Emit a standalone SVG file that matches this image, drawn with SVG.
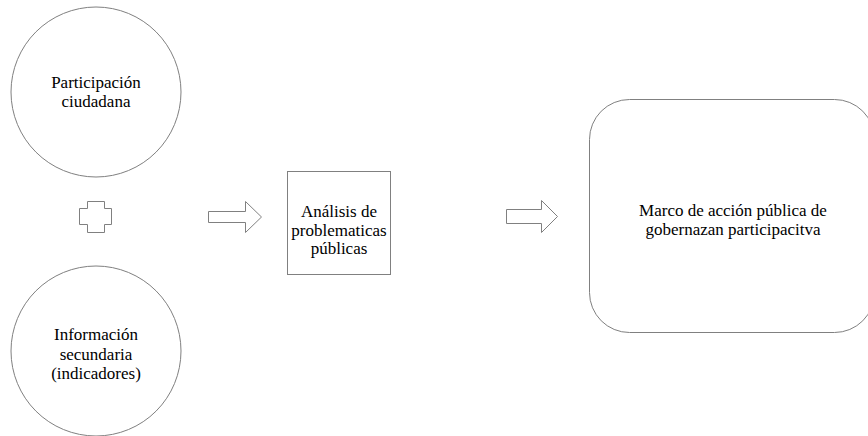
<svg xmlns="http://www.w3.org/2000/svg" width="868" height="436" viewBox="0 0 868 436">
<style>
.s{fill:#fff;stroke:#808080;stroke-width:1}
.t{font-family:"Liberation Serif","Times New Roman",Times,"Tinos","Noto Serif","DejaVu Serif",serif;font-size:17px;fill:#000;text-anchor:middle}
</style>
<rect width="868" height="436" fill="#fff"/>
<g id="n-participacion">
<circle class="s" cx="96" cy="92" r="85"/>
<text class="t" x="96" y="88">Participación</text>
<text class="t" x="96" y="107">ciudadana</text>
</g>
<g id="n-informacion">
<circle class="s" cx="96" cy="351" r="85"/>
<text class="t" x="96" y="340">Información</text>
<text class="t" x="96" y="359.5">secundaria</text>
<text class="t" x="96" y="379">(indicadores)</text>
</g>
<g id="n-analisis">
<rect class="s" x="287.5" y="171.5" width="103" height="103"/>
<text class="t" x="339" y="217">Análisis de</text>
<text class="t" x="339" y="235.5">problematicas</text>
<text class="t" x="339" y="254">públicas</text>
</g>
<g id="n-marco">
<rect class="s" x="589.5" y="99.5" width="285" height="233" rx="40" ry="40"/>
<text class="t" x="733" y="216">Marco de acción pública de</text>
<text class="t" x="733" y="235">gobernazan participacitva</text>
</g>
<g id="connectors">
<path class="s" d="M87.5,201.5 H104.5 V208.5 H111.5 V224.5 H104.5 V232.5 H87.5 V224.5 H79.5 V208.5 H87.5 Z"/>
<path class="s" d="M208.5,211.5 H245.5 V201.5 L261.5,217 L245.5,232.5 V222.5 H208.5 Z"/>
<path class="s" d="M506.5,209.5 H541.5 V200.5 L557.5,216.5 L541.5,232.5 V223.5 H506.5 Z"/>
</g>
</svg>
